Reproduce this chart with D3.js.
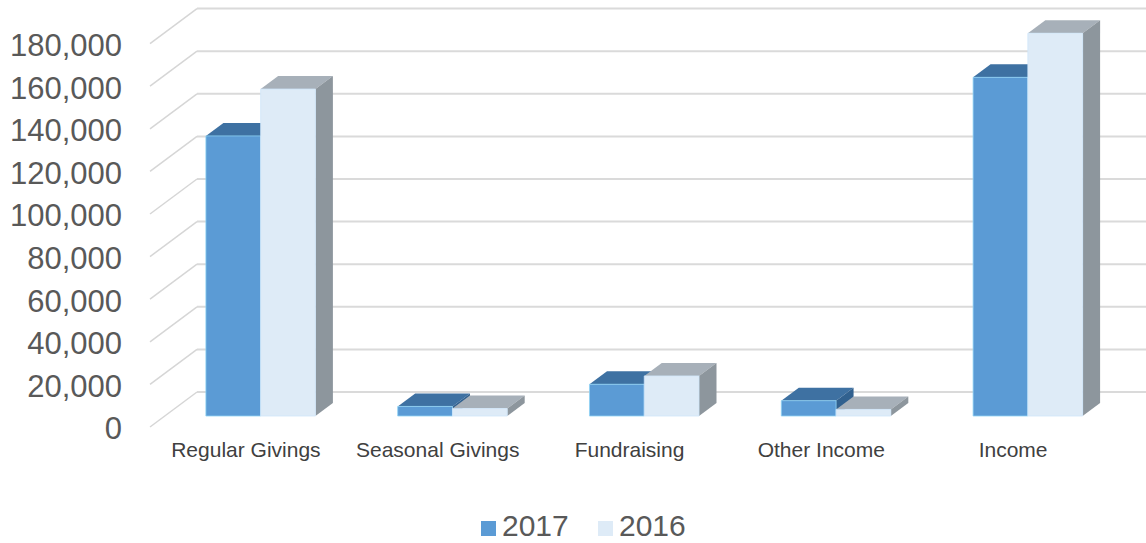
<!DOCTYPE html>
<html>
<head>
<meta charset="utf-8">
<script src="https://cdn.jsdelivr.net/npm/d3@7"></script>
<style>
  html, body { margin: 0; padding: 0; background: #ffffff; }
  svg { display: block; font-family: "Liberation Sans", Arial, sans-serif; }
</style>
</head>
<body>
<svg id="chart" width="1146" height="543"></svg>
<script>
// Income by source, two years
const categories = ["Regular Givings", "Seasonal Givings", "Fundraising", "Other Income", "Income"];
const seriesNames = ["2017", "2016"];
const values2017 = [131500, 4500, 14900, 7200, 159000];
const values2016 = [153500, 3500, 18800, 3100, 179700];
const yTicks = [0, 20000, 40000, 60000, 80000, 100000, 120000, 140000, 160000, 180000];

const seriesValues = { "2017": values2017, "2016": values2016 };

// Face colours for each series: front, top, side
const faceColors = {
  "2017": { front: "#5b9bd5", top: "#3e71a2", side: "#31618f", edge: "#8fd3f5" },
  "2016": { front: "#deebf7", top: "#a7b0b9", side: "#8d969d", edge: "#cfe6fa" }
};

const svg = d3.select("#chart");

// Oblique projection: depth 0 = front plane, depth 1 = back wall
const DX = 47, DY = 35;
const proj = (x, y, depth) => [x + DX * depth, y - DY * depth];

// Front-plane scales
const x = d3.scaleBand().domain(categories).range([150, 1109]).paddingInner(0).paddingOuter(0);
const xSub = d3.scaleBand().domain(seriesNames)
  .range([x.bandwidth() * 0.2145, x.bandwidth() * (1 - 0.2145)]).padding(0);
const y = d3.scaleLinear().domain([0, 180000]).range([427, 43.6]);

// Bars sit in the middle of the depth between front plane and back wall
const D_FRONT = 0.314, D_BACK = 0.686;

// Gridlines: back wall horizontals plus side-wall diagonals
const grid = svg.append("g").attr("class", "grid");
yTicks.forEach(t => {
  const [bx, by] = proj(x.range()[0], y(t), 1);
  grid.append("line")
    .attr("x1", bx).attr("y1", by)
    .attr("x2", 1160).attr("y2", by)
    .attr("stroke", "#dadada").attr("stroke-width", 2);
  grid.append("line")
    .attr("x1", x.range()[0]).attr("y1", y(t))
    .attr("x2", bx).attr("y2", by)
    .attr("stroke", "#d6d6d6").attr("stroke-width", 1.5);
});

// Y axis labels
const yAxis = d3.axisLeft(y).tickValues(yTicks).tickSize(0).tickPadding(28)
  .tickFormat(d3.format(","));
const yAxisG = svg.append("g")
  .attr("transform", `translate(${x.range()[0]},2)`)
  .call(yAxis);
yAxisG.select(".domain").remove();
yAxisG.selectAll("text")
  .attr("fill", "#595959")
  .style("font-size", "31px")
  .style("font-family", "\"Liberation Sans\", Arial, sans-serif");

// Category labels
const xAxis = d3.axisBottom(x).tickSize(0).tickPadding(0);
const xAxisG = svg.append("g")
  .attr("transform", "translate(0,442)")
  .call(xAxis);
xAxisG.select(".domain").remove();
xAxisG.selectAll("text")
  .attr("fill", "#404040")
  .style("font-size", "21px")
  .style("font-family", "\"Liberation Sans\", Arial, sans-serif");

// 3D bars
const bars = svg.append("g").attr("class", "bars");
const poly = pts => pts.map(p => p.join(",")).join(" ");

categories.forEach((cat, i) => {
  seriesNames.forEach(s => {
    const v = seriesValues[s][i];
    const c = faceColors[s];
    const x0 = x(cat) + xSub(s);
    const x1 = x0 + xSub.bandwidth();
    const y0 = y(0), y1 = y(v);

    const fTL = proj(x0, y1, D_FRONT), fTR = proj(x1, y1, D_FRONT);
    const fBL = proj(x0, y0, D_FRONT), fBR = proj(x1, y0, D_FRONT);
    const bTL = proj(x0, y1, D_BACK), bTR = proj(x1, y1, D_BACK);
    const bBR = proj(x1, y0, D_BACK);

    const g = bars.append("g").attr("class", `bar s${s}`);
    // top face
    g.append("polygon").attr("points", poly([fTL, fTR, bTR, bTL])).attr("fill", c.top);
    // right side face
    g.append("polygon").attr("points", poly([fTR, bTR, bBR, fBR])).attr("fill", c.side);
    // front face
    g.append("polygon").attr("points", poly([fTL, fTR, fBR, fBL]))
      .attr("fill", c.front).attr("stroke", c.edge).attr("stroke-width", 0.8);
  });
});

// Legend
const legend = svg.append("g").attr("class", "legend");
const legendItems = [
  { name: "2017", x: 481 },
  { name: "2016", x: 598 }
];
legendItems.forEach(it => {
  legend.append("rect")
    .attr("x", it.x).attr("y", 521)
    .attr("width", 15).attr("height", 15)
    .attr("fill", faceColors[it.name].front);
  legend.append("text")
    .attr("x", it.x + 21).attr("y", 536)
    .attr("fill", "#595959")
    .style("font-size", "30px")
    .text(it.name);
});
</script>
</body>
</html>
